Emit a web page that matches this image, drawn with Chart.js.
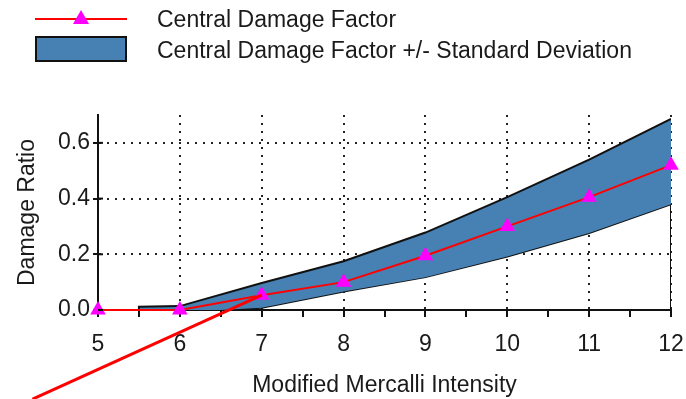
<!DOCTYPE html>
<html>
<head>
<meta charset="utf-8">
<script src="https://cdn.jsdelivr.net/npm/chart.js@4.4.1/dist/chart.umd.min.js"></script>
<style>
  html, body { margin: 0; padding: 0; background: #fff; }
  #wrap { position: relative; width: 686px; height: 399px; overflow: hidden; }
  #wrap canvas { position: absolute; left: 0; top: 0; }
  .lg-text { position: absolute; left: 157px; font: 23px "Liberation Sans", Arial, sans-serif; color: #1a1a1a; white-space: nowrap; line-height: 26px; }
  .lg-line { position: absolute; left: 35px; top: 18px; width: 92px; height: 2px; background: #ff0000; }
  .lg-tri { position: absolute; left: 73px; top: 10px; width: 0; height: 0;
            border-left: 8px solid transparent; border-right: 8px solid transparent; border-bottom: 14px solid #ff00ff; }
  .lg-box { position: absolute; left: 35px; top: 36px; width: 88px; height: 22px; background: #4781b3; border: 2px solid #111; }
</style>
</head>
<body>
<div id="wrap">
  <canvas id="grafico" width="686" height="399"></canvas>
  <div class="lg-line"></div>
  <div class="lg-tri"></div>
  <div class="lg-text" style="top:6px">Central Damage Factor</div>
  <div class="lg-box"></div>
  <div class="lg-text" style="top:37px">Central Damage Factor +/- Standard Deviation</div>
</div>
<script>
// datos
const intensity = [5, 6, 7, 8, 9, 10, 11, 12];
const centralFactor = [0, 0, 0.053, 0.10, 0.195, 0.30, 0.405, 0.52];
const upperX = [5, 5.5, 5.5, 6, 7, 8, 9, 10, 11, 12];
const upperRatio = [0, 0, 0.012, 0.014, 0.097, 0.175, 0.278, 0.405, 0.54, 0.686];
const lowerX = [5, 6, 6.5, 7, 8, 9, 10, 11, 12];
const lowerRatio = [0, 0, 0, 0.008, 0.066, 0.118, 0.192, 0.276, 0.38];
const yLabels = [0, 0.2, 0.4, 0.6];
const xLabels = [5, 6, 7, 8, 9, 10, 11, 12];
// flecha roja (anotacion), en unidades de los ejes
const arrowFrom = { x: 4.2, y: -0.32 };
const arrowTo = { x: intensity[2], y: centralFactor[2] };

const toPoints = (xs, ys) => xs.map((x, i) => ({ x: x, y: ys[i] }));
const font = { family: '"Liberation Sans", Arial, sans-serif', size: 23 };
const ink = '#1a1a1a';

// marcas de eje hacia dentro y flecha
const extras = {
  id: 'extras',
  afterDraw(chart) {
    const { ctx, scales: { x, y } } = chart;
    ctx.save();
    ctx.strokeStyle = '#111';
    ctx.lineWidth = 2;
    y.ticks.forEach(t => {
      const py = y.getPixelForValue(t.value);
      ctx.beginPath();
      ctx.moveTo(x.left, py);
      ctx.lineTo(x.left + 5, py);
      ctx.stroke();
    });
    ctx.strokeStyle = '#ff0000';
    ctx.lineWidth = 3;
    ctx.beginPath();
    ctx.moveTo(x.getPixelForValue(arrowFrom.x), y.getPixelForValue(arrowFrom.y));
    ctx.lineTo(x.getPixelForValue(arrowTo.x), y.getPixelForValue(arrowTo.y));
    ctx.stroke();
    ctx.restore();
  }
};

new Chart(document.getElementById('grafico'), {
  type: 'line',
  data: {
    datasets: [
      {
        label: 'Central Damage Factor',
        data: toPoints(intensity, centralFactor),
        borderColor: '#ff0000',
        borderWidth: 2,
        pointStyle: 'triangle',
        pointRadius: 9,
        pointBackgroundColor: '#ff00ff',
        pointBorderWidth: 0,
        clip: false,
        fill: false
      },
      {
        label: 'Central Damage Factor +/- Standard Deviation',
        data: toPoints(upperX, upperRatio),
        borderColor: '#111',
        borderWidth: 2,
        backgroundColor: '#4781b3',
        pointRadius: 0,
        fill: '+1'
      },
      {
        label: 'lower',
        data: toPoints(lowerX, lowerRatio),
        borderColor: '#111',
        borderWidth: 2,
        pointRadius: 0,
        fill: false
      },
      {
        label: 'edge',
        data: [{ x: 12, y: 0 }, { x: 12, y: upperRatio[upperRatio.length - 1] }],
        borderColor: '#111',
        borderWidth: 2,
        pointRadius: 0,
        fill: false
      }
    ]
  },
  options: {
    responsive: false,
    animation: false,
    layout: { padding: { top: 115, right: 15, left: 0, bottom: 0 } },
    plugins: { legend: { display: false }, tooltip: { enabled: false } },
    scales: {
      x: {
        type: 'linear',
        min: 5,
        max: 12,
        z: 1,
        afterFit: s => { s.height = 89; s.paddingLeft = 0; s.paddingRight = 0; },
        ticks: {
          stepSize: 0.5,
          autoSkip: false,
          maxRotation: 0,
          padding: 14,
          color: ink,
          font: font,
          callback: v => xLabels.includes(v) ? String(v) : ''
        },
        grid: {
          color: c => (c.tick && c.tick.value > 5 && Number.isInteger(c.tick.value)) ? '#222' : 'rgba(0,0,0,0)',
          lineWidth: 2,
          tickColor: '#111',
          tickWidth: 2,
          tickLength: 7
        },
        border: { display: true, color: '#111', width: 2, dash: [2, 6] },
        title: { display: true, text: 'Modified Mercalli Intensity', color: ink, font: font, padding: { top: 0, bottom: 0 } }
      },
      y: {
        min: 0,
        max: 0.7,
        z: 1,
        afterFit: s => { s.width = 98; },
        ticks: {
          stepSize: 0.1,
          padding: 3,
          color: ink,
          font: font,
          callback: v => yLabels.includes(Math.round(v * 10) / 10) ? v.toFixed(1) : ''
        },
        grid: {
          color: c => (c.tick && c.tick.value > 0.05 && yLabels.includes(Math.round(c.tick.value * 10) / 10)) ? '#222' : 'rgba(0,0,0,0)',
          lineWidth: 2,
          tickColor: '#111',
          tickWidth: 2,
          tickLength: 5
        },
        border: { display: true, color: '#111', width: 2, dash: [2, 6] },
        title: { display: true, text: 'Damage Ratio', color: ink, font: font, padding: { top: 14, bottom: 0 } }
      }
    }
  },
  plugins: [extras]
});
</script>
</body>
</html>
